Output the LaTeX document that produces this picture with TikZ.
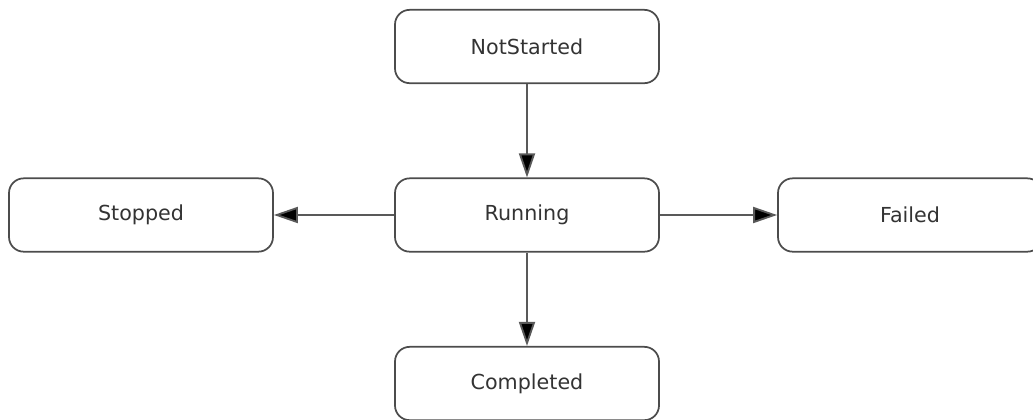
\documentclass[tikz,border=0pt]{standalone}
\usepackage{fontspec}
\setmainfont{DejaVu Sans}
\usetikzlibrary{arrows.meta}
\begin{document}
\begin{tikzpicture}[x=0.75pt,y=-0.75pt]

      \useasboundingbox (0,0) rectangle (1033,419);

      \begin{scope}[every node/.style={draw=black!70,line width=1.3pt,rounded corners=11pt,
          minimum width=198pt,minimum height=55pt,text=black!80,font=\fontsize{15.5}{18}\selectfont}]
        \node (notstarted) at (527,46.5)  {NotStarted};
        \node (running)    at (527,215)   {Running};
        \node (stopped)    at (141,215)   {Stopped};
        \node (failed)     at (910,215)   {Failed};
        \node (completed)  at (527,383.5) {Completed};
      \end{scope}

      \begin{scope}[every edge/.style={draw=black!65,line width=1.4pt,
          -{Triangle[length=18pt,width=12pt,fill=black]}}]
        \path (notstarted) edge (running);
        \path (running)    edge (stopped);
        \path (running)    edge (failed);
        \path (running)    edge (completed);
      \end{scope}

    \end{tikzpicture}
\end{document}
